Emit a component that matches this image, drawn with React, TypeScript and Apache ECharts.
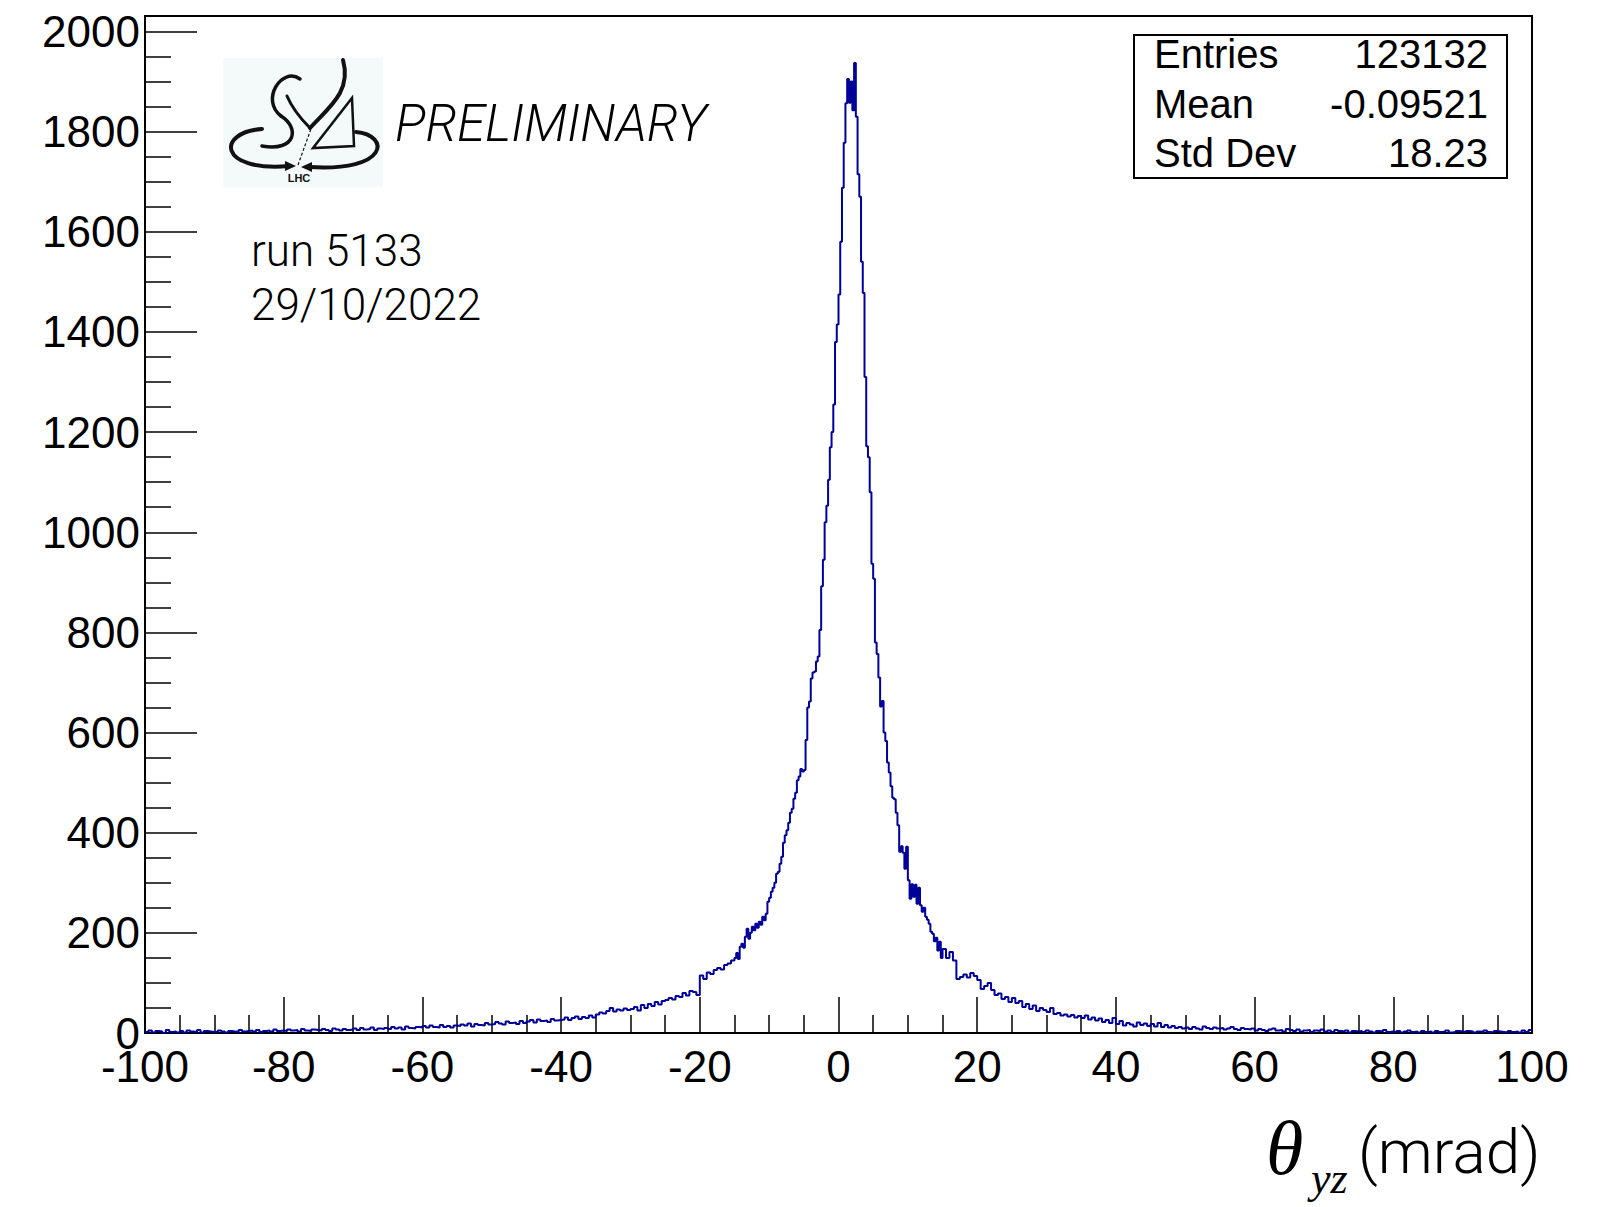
import React, { useEffect, useRef } from 'react';
import * as echarts from 'echarts';

// ---- axis definitions ----
const X_MIN = -100;
const X_MAX = 100;
const Y_MIN = 0;
const Y_MAX = 2031;
const xMajorTicks = [-100, -80, -60, -40, -20, 0, 20, 40, 60, 80, 100];
const yMajorTicks = [0, 200, 400, 600, 800, 1000, 1200, 1400, 1600, 1800, 2000];

// ---- histogram bins (counts per bin) ----
const LEFT_START = -100; // left tail, 0.5 mrad bins
const TAIL_BIN = 0.5;
const CORE_START = -15; // core, 0.25 mrad bins
const CORE_BIN = 0.25;
const RIGHT_START = 15; // right tail, 0.5 mrad bins

const leftTail = [
  2, 5, 1, 4, 3, 0, 6, 2, 3, 1,
  4, 1, 5, 3, 2, 6, 1, 4, 3, 2,
  2, 5, 3, 1, 4, 3, 2, 6, 3, 4,
  5, 3, 6, 2, 4, 5, 3, 7, 4, 5,
  4, 7, 5, 6, 3, 8, 5, 4, 7, 6,
  5, 8, 6, 4, 9, 7, 5, 8, 6, 7,
  9, 6, 10, 7, 8, 11, 6, 9, 8, 10,
  8, 12, 9, 11, 7, 13, 10, 9, 12, 11,
  14, 11, 15, 12, 11, 16, 12, 14, 11, 15,
  14, 17, 15, 19, 13, 18, 16, 15, 20, 17,
  18, 22, 19, 17, 23, 20, 21, 18, 24, 20,
  23, 26, 21, 27, 24, 25, 22, 28, 25, 26,
  27, 31, 26, 30, 33, 28, 32, 30, 35, 31,
  37, 41, 39, 44, 50, 43, 47, 45, 49, 46,
  48, 52, 45, 56, 50, 58, 54, 62, 57, 64,
  66, 70, 67, 74, 72, 80, 75, 84, 82, 76,
  115, 108, 121, 118, 126, 130, 127, 136, 139, 145,
];

const core = [
  150, 160, 148, 172, 178, 170, 192, 208, 188, 200,
  212, 205, 218, 210, 222, 216, 232, 225, 238, 262,
  270, 282, 290, 300, 318, 322, 338, 352, 380, 395,
  405, 420, 440, 448, 468, 480, 505, 512, 527, 522,
  525, 585, 650, 662, 708, 720, 722, 742, 752, 805,
  892, 945, 1020, 1053, 1105, 1170, 1200, 1255, 1380, 1415,
  1475, 1580, 1688, 1778, 1857, 1905, 1858, 1900, 1843, 1937,
  1830, 1715, 1670, 1540, 1478, 1310, 1172, 1150, 1080, 937,
  907, 780, 757, 710, 652, 663, 600, 583, 540, 520,
  493, 470, 467, 440, 415, 362, 373, 360, 328, 372,
  305, 268, 297, 272, 296, 258, 290, 255, 242, 250,
  232, 226, 218, 202, 198, 183, 190, 165, 182, 150,
];

const rightTail = [
  168, 150, 162, 145, 108, 112, 117, 111, 120, 114,
  106, 88, 94, 100, 86, 76, 79, 68, 72, 62,
  70, 60, 64, 52, 58, 48, 55, 44, 50, 46,
  42, 50, 38, 40, 35, 37, 33, 36, 31, 34,
  30, 35, 27, 31, 25, 29, 22, 26, 20, 30,
  18, 24, 15, 20, 17, 13, 21, 16, 19, 14,
  18, 13, 20, 12, 16, 11, 14, 10, 12, 9,
  11, 8, 12, 9, 7, 13, 10, 8, 11, 9,
  10, 7, 9, 12, 8, 6, 10, 8, 7, 9,
  5, 8, 6, 4, 7, 9, 5, 6, 3, 8,
  6, 4, 7, 3, 5, 6, 2, 5, 4, 7,
  3, 5, 2, 6, 4, 3, 5, 1, 4, 3,
  4, 2, 5, 3, 1, 4, 3, 6, 2, 3,
  2, 4, 1, 3, 5, 2, 3, 1, 4, 2,
  3, 1, 4, 2, 3, 5, 1, 2, 4, 3,
  2, 4, 3, 1, 3, 2, 5, 2, 1, 4,
  3, 2, 1, 4, 2, 3, 1, 5, 2, 6,
];

// ---- stats box and annotations ----
const statNames = ['Entries', 'Mean', 'Std Dev'];
const statValues = ['123132', '-0.09521', '18.23'];
const runLines = ['run 5133', '29/10/2022'];
const prelimText = 'PRELIMINARY';
const axisTitleSymbol = 'θ';
const axisTitleSub = 'yz';
const axisTitleUnit = '(mrad)';

function buildPoints(): [number, number][] {
  const pts: [number, number][] = [];
  leftTail.forEach((v, i) => pts.push([LEFT_START + i * TAIL_BIN, v]));
  core.forEach((v, i) => pts.push([CORE_START + i * CORE_BIN, v]));
  rightTail.forEach((v, i) => pts.push([RIGHT_START + i * TAIL_BIN, v]));
  pts.push([X_MAX, rightTail[rightTail.length - 1]]);
  return pts;
}

const INK = '#111';

function logoElements(): any[] {
  const stroke = (w: number) => ({ stroke: INK, lineWidth: w, fill: null, lineCap: 'round' });
  return [
    { type: 'rect', shape: { x: 223, y: 58, width: 160, height: 129 }, style: { fill: '#f4f9fa' } },
    { type: 'bezierCurve', shape: { x1: 262, y1: 129, cpx1: 217, cpy1: 132, cpx2: 217, cpy2: 172, x2: 289, y2: 166 }, style: stroke(4) },
    { type: 'polygon', shape: { points: [[285, 161], [296, 166], [285, 171]] }, style: { fill: INK } },
    { type: 'bezierCurve', shape: { x1: 356, y1: 132, cpx1: 390, cpy1: 135, cpx2: 390, cpy2: 172, x2: 309, y2: 167 }, style: stroke(4) },
    { type: 'polygon', shape: { points: [[312, 162], [301, 167], [312, 172]] }, style: { fill: INK } },
    { type: 'line', shape: { x1: 298, y1: 165, x2: 312, y2: 126 }, style: { stroke: INK, lineWidth: 1.2, lineDash: [3, 2] } },
    { type: 'polygon', shape: { points: [[313, 148], [352, 98], [354, 146]] }, style: { fill: null, stroke: INK, lineWidth: 2.5 } },
    { type: 'bezierCurve', shape: { x1: 300, y1: 79, cpx1: 282, cpy1: 66, cpx2: 260, cpy2: 100, x2: 281, y2: 116 }, style: stroke(3.5) },
    { type: 'bezierCurve', shape: { x1: 281, y1: 116, cpx1: 300, cpy1: 128, cpx2: 296, cpy2: 152, x2: 262, y2: 146 }, style: stroke(3.5) },
    { type: 'bezierCurve', shape: { x1: 287, y1: 96, cpx1: 292, cpy1: 108, cpx2: 302, cpy2: 120, x2: 310, y2: 128 }, style: stroke(3) },
    { type: 'bezierCurve', shape: { x1: 310, y1: 128, cpx1: 328, cpy1: 108, cpx2: 352, cpy2: 92, x2: 343, y2: 60 }, style: stroke(4) },
    { type: 'text', x: 299, y: 178, style: { text: 'LHC', fontSize: 11, fontWeight: 'bold', fontFamily: 'Liberation Sans', fill: INK, align: 'center', verticalAlign: 'middle' } },
  ];
}

function statsElements(): any[] {
  const els: any[] = [
    { type: 'rect', shape: { x: 1134, y: 35, width: 373, height: 143 }, style: { fill: '#fff', stroke: '#000', lineWidth: 2 } },
  ];
  const rowY = [54, 104, 153];
  statNames.forEach((name, i) => {
    els.push({ type: 'text', x: 1154, y: rowY[i], style: { text: name, fontSize: 40, fontFamily: 'Liberation Sans', fill: '#000', align: 'left', verticalAlign: 'middle' } });
    els.push({ type: 'text', x: 1488, y: rowY[i], style: { text: statValues[i], fontSize: 40, fontFamily: 'Liberation Sans', fill: '#000', align: 'right', verticalAlign: 'middle' } });
  });
  return els;
}

function textElements(): any[] {
  const light = { fontFamily: 'Roboto', fontWeight: 300, fill: '#000' };
  return [
    { type: 'text', x: 395, y: 123, style: { ...light, text: prelimText, fontSize: 51, fontStyle: 'italic', align: 'left', verticalAlign: 'middle' } },
    { type: 'text', x: 251, y: 251, style: { ...light, text: runLines[0], fontSize: 44, align: 'left', verticalAlign: 'middle' } },
    { type: 'text', x: 251, y: 305, style: { ...light, text: runLines[1], fontSize: 44, align: 'left', verticalAlign: 'middle' } },
    { type: 'text', x: 1266, y: 1148, style: { text: axisTitleSymbol, fontSize: 76, fontStyle: 'italic', fontFamily: 'Liberation Serif', fill: '#000', align: 'left', verticalAlign: 'middle' } },
    { type: 'text', x: 1311, y: 1178, style: { text: axisTitleSub, fontSize: 44, fontStyle: 'italic', fontFamily: 'Liberation Serif', fill: '#000', align: 'left', verticalAlign: 'middle' } },
    { type: 'text', x: 1358, y: 1151, style: { ...light, text: axisTitleUnit, fontSize: 62, align: 'left', verticalAlign: 'middle' } },
  ];
}

export default function App() {
  const ref = useRef<HTMLDivElement>(null);
  useEffect(() => {
    if (!ref.current) return;
    const chart = echarts.init(ref.current, undefined, { renderer: 'svg' });
    const axisLineStyle = { color: '#000', width: 2 };
    const tickStyle = { color: '#000', width: 1.5 };
    chart.setOption({
      animation: false,
      backgroundColor: '#fff',
      grid: { left: 145, right: 87, top: 16, bottom: 174, show: true, borderColor: '#000', borderWidth: 2, backgroundColor: 'transparent' },
      xAxis: {
        type: 'value',
        min: X_MIN,
        max: X_MAX,
        interval: 20,
        axisLine: { show: true, onZero: false, lineStyle: axisLineStyle },
        axisTick: { show: true, inside: true, length: 36, lineStyle: tickStyle },
        minorTick: { show: true, splitNumber: 4, length: 18, lineStyle: tickStyle },
        axisLabel: {
          fontSize: 44,
          lineHeight: 34,
          fontFamily: 'Liberation Sans',
          color: '#000',
          margin: 16,
          formatter: (v: number) => (xMajorTicks.includes(v) ? String(v) : ''),
        },
        splitLine: { show: false },
        minorSplitLine: { show: false },
      },
      yAxis: {
        type: 'value',
        min: Y_MIN,
        max: Y_MAX,
        interval: 200,
        axisLine: { show: true, onZero: false, lineStyle: axisLineStyle },
        axisTick: { show: true, inside: true, length: 52, lineStyle: tickStyle },
        minorTick: { show: true, splitNumber: 4, length: 26, lineStyle: tickStyle },
        axisLabel: {
          fontSize: 44,
          lineHeight: 34,
          fontFamily: 'Liberation Sans',
          color: '#000',
          margin: 5,
          formatter: (v: number) => (yMajorTicks.includes(v) ? String(v) : ''),
        },
        splitLine: { show: false },
        minorSplitLine: { show: false },
      },
      series: [
        {
          type: 'line',
          data: buildPoints(),
          step: 'end',
          showSymbol: false,
          symbol: 'none',
          clip: true,
          lineStyle: { color: '#000099', width: 2 },
        },
      ],
      graphic: { elements: [...logoElements(), ...statsElements(), ...textElements()] },
    });
    return () => chart.dispose();
  }, []);
  return <div ref={ref} style={{ position: 'fixed', left: 0, top: 0, width: 1619, height: 1207, background: '#fff' }} />;
}
